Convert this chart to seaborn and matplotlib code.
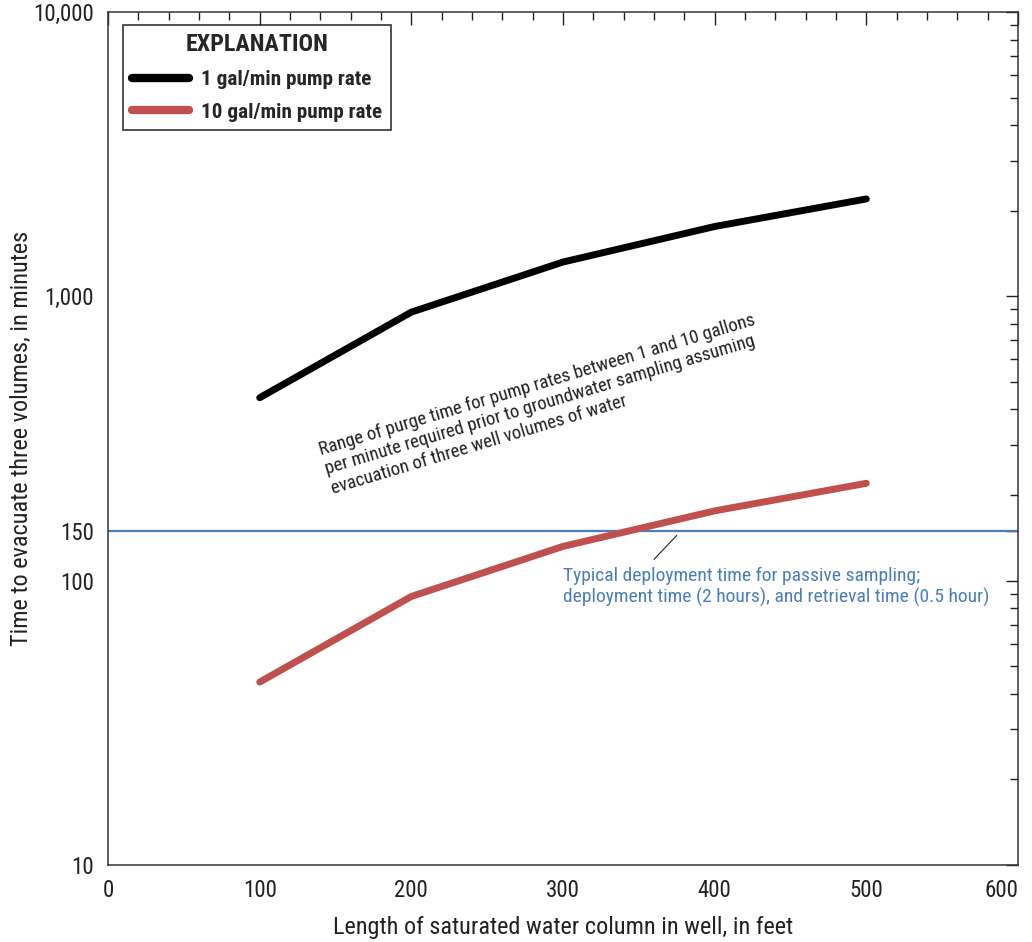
import numpy as np
import pandas as pd
import matplotlib
matplotlib.use("Agg")
import matplotlib.pyplot as plt
import matplotlib.ticker as mticker
import seaborn as sns

# data
length_ft = [100, 200, 300, 400, 500]
time_1gpm = [440, 880, 1320, 1760, 2200]
time_10gpm = [44, 88, 132, 176, 220]
deploy_time = 150
series_names = ["1 gal/min pump rate", "10 gal/min pump rate"]

df = pd.DataFrame({
    "length": length_ft * 2,
    "time": time_1gpm + time_10gpm,
    "series": [series_names[0]] * 5 + [series_names[1]] * 5,
})

sns.set_style("white")
plt.rcParams["font.family"] = ["Roboto Condensed", "Liberation Sans Narrow",
                               "Liberation Sans", "DejaVu Sans"]

blue = "#4a7ebb"
palette = {series_names[0]: "black", series_names[1]: "#c0504d"}

fig = plt.figure(figsize=(10.32, 9.42), dpi=100)
ax = fig.add_axes([0.1047, 0.0817, 0.8817, 0.9056])

sns.lineplot(data=df, x="length", y="time", hue="series", palette=palette,
             linewidth=5, solid_capstyle="round", ax=ax)
ax.axhline(deploy_time, color=blue, linewidth=1.6, zorder=1)

ax.set_yscale("log")
ax.set_xlim(0, 600)
ax.set_ylim(10, 10000)

ax.set_xticks([0, 100, 200, 300, 400, 500, 600])
ax.xaxis.set_minor_locator(mticker.MultipleLocator(20))
ax.set_yticks([10, 100, 150, 1000, 10000])
ax.set_yticklabels(["10", "100", "150", "1,000", "10,000"])
ax.yaxis.set_minor_locator(mticker.LogLocator(base=10, subs=np.arange(2, 10)))
ax.yaxis.set_minor_formatter(mticker.NullFormatter())
ax.get_yticklabels()[2].set_color(blue)
ax.yaxis.get_major_ticks()[2].tick1line.set_visible(False)
ax.yaxis.get_major_ticks()[2].tick2line.set_visible(False)

ax.tick_params(which="both", direction="in", top=True, right=True,
               colors="#222222", labelsize=16.5, width=1)
ax.tick_params(which="major", length=9, pad=10)
ax.tick_params(which="minor", length=5.5)
for s in ax.spines.values():
    s.set_color("#333333")
    s.set_linewidth(1.1)

# last x label sits just inside the figure edge, as in the original
ax.xaxis.get_major_ticks()[-1].label1.set_horizontalalignment("right")

ax.set_xlabel("Length of saturated water column in well, in feet",
              fontsize=17.5, color="#222222")
ax.set_ylabel("Time to evacuate three volumes, in minutes",
              fontsize=17.5, color="#222222")
ax.xaxis.set_label_coords(0.5, -0.060)
ax.yaxis.set_label_coords(-0.082, 0.5)

leg = ax.legend(title="EXPLANATION", loc="upper left",
                bbox_to_anchor=(0.0165, 0.985), borderaxespad=0,
                frameon=True, fancybox=False,
                edgecolor="black", fontsize=15.2, title_fontsize=17.3,
                handlelength=2.7, borderpad=0.4, labelspacing=0.65,
                handletextpad=0.6)
leg.get_frame().set_linewidth(1.2)
leg.get_title().set_fontweight("bold")
for t in leg.get_texts():
    t.set_fontweight("bold")
for h in leg.get_lines():
    h.set_linewidth(6)
    h.set_solid_capstyle("round")

ax.text(0.2297, 0.496,
        "Range of purge time for pump rates between 1 and 10 gallons\n"
        "per minute required prior to groundwater sampling assuming\n"
        "evacuation of three well volumes of water",
        transform=ax.transAxes, rotation=16.7, rotation_mode="anchor",
        ha="left", va="top", fontsize=13.5, color="#222222", linespacing=1.15)

ax.text(0.4995, 0.350,
        "Typical deployment time for passive sampling;\n"
        "deployment time (2 hours), and retrieval time (0.5 hour)",
        transform=ax.transAxes, ha="left", va="top", fontsize=14,
        color=blue, linespacing=1.25)
ax.plot([0.6, 0.625], [0.3583, 0.3864], transform=ax.transAxes,
        color="#222222", linewidth=0.8)

fig.savefig("out.png", dpi=100)
